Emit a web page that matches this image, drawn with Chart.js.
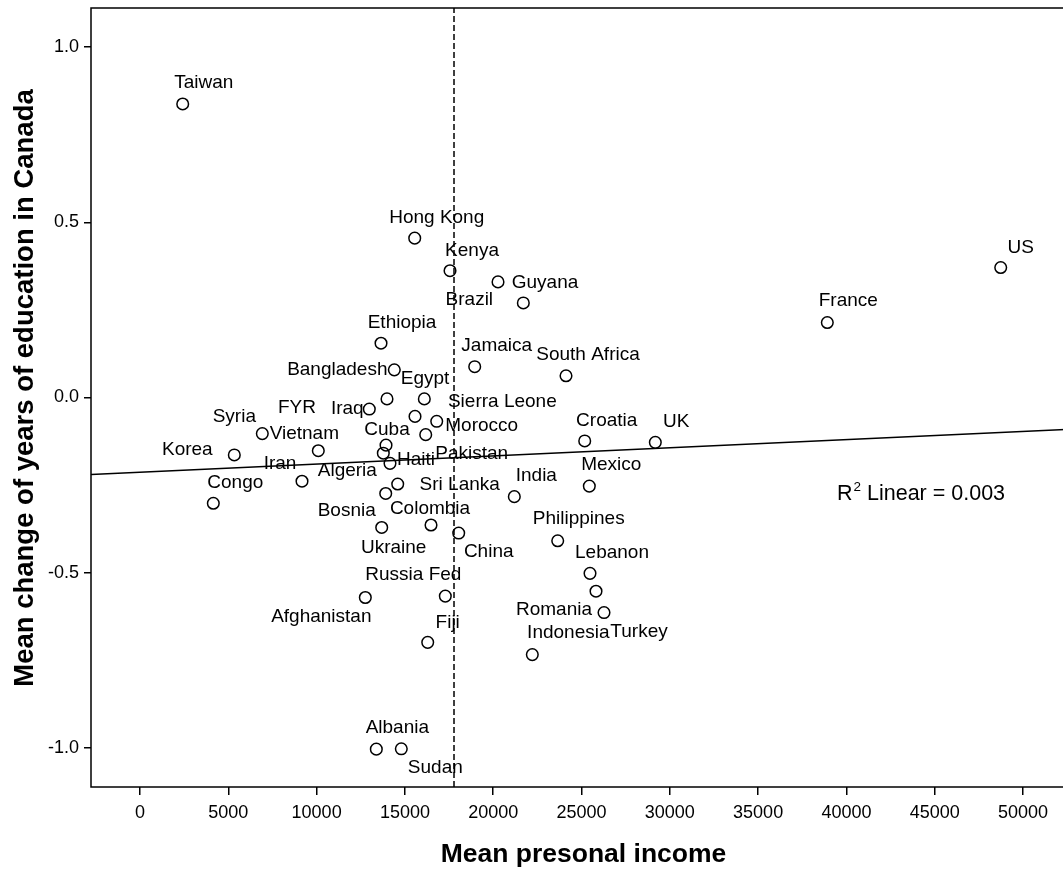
<!DOCTYPE html>
<html>
<head>
<meta charset="utf-8">
<title>Mean personal income vs. change of years of education in Canada</title>
<script src="https://cdn.jsdelivr.net/npm/chart.js@4.4.1/dist/chart.umd.min.js"></script>
<style>
  html, body { margin: 0; padding: 0; background: #ffffff; overflow: hidden; }
  #wrap { position: relative; width: 1090px; height: 871px; }
</style>
</head>
<body>
<div id="wrap"><canvas id="chart" width="1090" height="871"></canvas></div>
<script>
// Country of origin
const countries = [
  'Taiwan', 'Hong Kong', 'Kenya', 'Guyana', 'Brazil', 'US', 'France', 'Ethiopia',
  'Bangladesh', 'Jamaica', 'South Africa', 'Egypt', 'Sierra Leone', 'Iraq', 'FYR',
  'Syria', 'Vietnam', 'Korea', 'Cuba', 'Morocco', 'Pakistan', 'Haiti', 'Algeria',
  'Iran', 'Congo', 'Sri Lanka', 'India', 'Mexico', 'Croatia', 'UK', 'Bosnia',
  'Colombia', 'Ukraine', 'China', 'Philippines', 'Lebanon', 'Russia Fed',
  'Afghanistan', 'Fiji', 'Romania', 'Turkey', 'Indonesia', 'Albania', 'Sudan'
];

// Mean personal income
const income = [
  2418, 15555, 17554, 20272, 21705, 48737, 38918, 13647,
  14400, 18952, 24122, 13986, 16099, 12984, 13930,
  6925, 10096, 5340, 15572, 16801, 16178, 14156, 13777,
  9173, 4151, 14592, 21195, 25442, 25181, 29179, 13913,
  16478, 13686, 18046, 23652, 25481, 17288,
  12758, 16291, 25821, 26274, 22214, 13381, 14796
];

// Mean change of years of education in Canada
const eduChange = [
  0.838, 0.455, 0.362, 0.330, 0.270, 0.371, 0.214, 0.155,
  0.079, 0.088, 0.062, -0.004, -0.004, -0.033, -0.136,
  -0.103, -0.152, -0.164, -0.054, -0.068, -0.106, -0.188, -0.159,
  -0.239, -0.302, -0.247, -0.283, -0.253, -0.124, -0.128, -0.274,
  -0.364, -0.371, -0.387, -0.409, -0.502, -0.567,
  -0.571, -0.699, -0.553, -0.614, -0.734, -1.004, -1.003
];

// Label placement around each marker (pixels, from the marker centre)
const labelDx = [
  21, 22, 22, 47, -54, 20, 21, 21,
  -57, 22, 22, 38, 78, -22, -89,
  -28, -14, -47, -28, 45, 46, 26, -36,
  -22, 22, 62, 22, 22, 22, 21, -39,
  -1, 12, 30, 21, 22, -32,
  -44, 20, -42, 35, 36, 21, 34
];
const labelDy = [
  -21, -20, -20, 1, -3, -20, -22, -20,
  0, -21, -21, -20, 3, 0, -37,
  -17, -17, -5, 13, 4, 19, -4, 18,
  -17, -21, 1, -21, -21, -20, -21, 17,
  -16, 20, 19, -22, -21, -21,
  19, -20, 19, 19, -22, -21, 19
];

// Axis ticks and ranges
const xTicks = [0, 5000, 10000, 15000, 20000, 25000, 30000, 35000, 40000, 45000, 50000];
const yTicks = [-1.0, -0.5, 0.0, 0.5, 1.0];
const xRange = [-2775, 53000];
const yRange = [-1.112, 1.112];

// Reference line at the mean personal income
const meanIncome = 17780;
const fitLabel = 'Linear = 0.003';
const yTitle = 'Mean change of years of education in Canada';

const FONT = '"Liberation Sans", Arial, Helvetica, sans-serif';

// Least-squares line through the points
function linearFit(xs, ys) {
  const n = xs.length;
  const mx = xs.reduce((a, b) => a + b, 0) / n;
  const my = ys.reduce((a, b) => a + b, 0) / n;
  let sxy = 0, sxx = 0;
  for (let i = 0; i < n; i++) {
    sxy += (xs[i] - mx) * (ys[i] - my);
    sxx += (xs[i] - mx) * (xs[i] - mx);
  }
  const slope = sxy / sxx;
  return { slope, intercept: my - slope * mx };
}
const fit = linearFit(income, eduChange);

const points = income.map((x, i) => ({ x, y: eduChange[i] }));
const fitLine = xRange.map(x => ({ x, y: fit.intercept + fit.slope * x }));
const meanLine = yRange.map(y => ({ x: meanIncome, y }));

// Country names next to the markers
const pointLabels = {
  id: 'pointLabels',
  afterDatasetsDraw(chart) {
    const ctx = chart.ctx;
    const meta = chart.getDatasetMeta(2);
    ctx.save();
    ctx.font = '19px ' + FONT;
    ctx.fillStyle = '#000';
    ctx.textAlign = 'center';
    ctx.textBaseline = 'middle';
    meta.data.forEach((el, i) => {
      ctx.fillText(countries[i], el.x + labelDx[i], el.y + labelDy[i]);
    });
    ctx.restore();
  }
};

// Frame round the plot area, the vertical axis title and the fit statistic
const frame = {
  id: 'frame',
  afterDraw(chart) {
    const { ctx, chartArea: a } = chart;
    ctx.save();
    ctx.strokeStyle = '#000';
    ctx.lineWidth = 1.5;
    ctx.strokeRect(a.left, a.top, a.right - a.left, a.bottom - a.top);

    // vertical axis title
    ctx.save();
    ctx.translate(25, a.top + 380);
    ctx.rotate(-Math.PI / 2);
    ctx.font = 'bold 27.5px ' + FONT;
    ctx.fillStyle = '#000';
    ctx.textAlign = 'center';
    ctx.textBaseline = 'middle';
    ctx.fillText(yTitle, 0, 0);
    ctx.restore();

    // R² annotation
    const x0 = a.left + 746, base = a.top + 492;
    ctx.fillStyle = '#000';
    ctx.textBaseline = 'alphabetic';
    ctx.textAlign = 'left';
    ctx.font = '21.5px ' + FONT;
    ctx.fillText('R', x0, base);
    let x = x0 + ctx.measureText('R').width;
    ctx.font = '13.5px ' + FONT;
    ctx.fillText('2', x + 1, base - 9);
    x += ctx.measureText('2').width + 1;
    ctx.font = '21.5px ' + FONT;
    ctx.fillText(' ' + fitLabel, x, base);
    ctx.restore();
  }
};

new Chart(document.getElementById('chart'), {
  type: 'scatter',
  data: {
    datasets: [
      {
        data: meanLine,
        showLine: true,
        borderColor: '#000',
        borderWidth: 1.5,
        borderDash: [6, 3],
        pointRadius: 0,
        pointHoverRadius: 0
      },
      {
        data: fitLine,
        showLine: true,
        borderColor: '#000',
        borderWidth: 1.5,
        pointRadius: 0,
        pointHoverRadius: 0
      },
      {
        data: points,
        pointStyle: 'circle',
        pointRadius: 5.8,
        pointBorderWidth: 1.5,
        borderColor: '#000',
        backgroundColor: 'rgba(255,255,255,0)'
      }
    ]
  },
  options: {
    responsive: false,
    animation: false,
    events: [],
    layout: { padding: { top: 8, right: 14, left: 0, bottom: 0 } },
    plugins: {
      legend: { display: false },
      tooltip: { enabled: false }
    },
    scales: {
      x: {
        type: 'linear',
        min: xRange[0],
        max: xRange[1],
        afterBuildTicks: s => { s.ticks = xTicks.map(v => ({ value: v })); },
        afterFit: s => { s.height = 84; s.paddingLeft = 0; s.paddingRight = 0; },
        border: { display: false },
        grid: { drawOnChartArea: false, drawTicks: true, tickLength: 8, color: '#000', lineWidth: 1.5 },
        ticks: {
          color: '#000',
          font: { family: FONT, size: 18 },
          padding: 7,
          maxRotation: 0,
          autoSkip: false,
          callback: v => String(v)
        },
        title: {
          display: true,
          text: 'Mean presonal income',
          color: '#000',
          font: { family: FONT, size: 26.5, weight: 'bold' },
          padding: { top: 0, bottom: 0 }
        }
      },
      y: {
        type: 'linear',
        min: yRange[0],
        max: yRange[1],
        afterBuildTicks: s => { s.ticks = yTicks.map(v => ({ value: v })); },
        afterFit: s => { s.width = 91; s.paddingTop = 0; s.paddingBottom = 0; },
        border: { display: false },
        grid: { drawOnChartArea: false, drawTicks: true, tickLength: 7, color: '#000', lineWidth: 1.5 },
        ticks: {
          color: '#000',
          font: { family: FONT, size: 18 },
          padding: 5,
          autoSkip: false,
          callback: v => v.toFixed(1)
        }
      }
    }
  },
  plugins: [pointLabels, frame]
});
</script>
</body>
</html>
